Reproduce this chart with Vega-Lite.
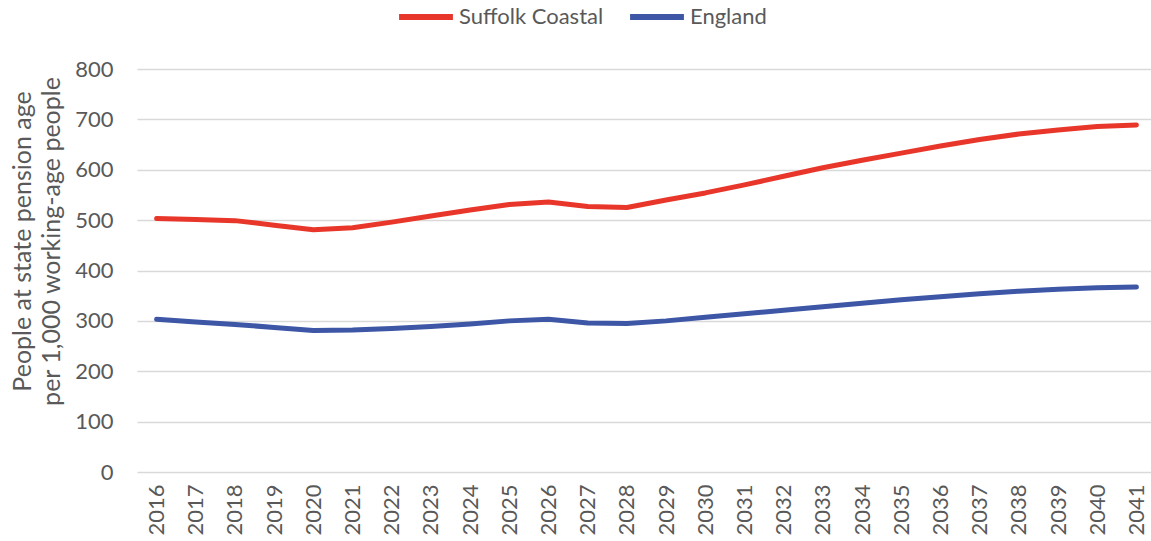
{
  "$schema": "https://vega.github.io/schema/vega-lite/v6.json",
  "autosize": "none",
  "width": 1019,
  "height": 403,
  "padding": {"left": 137, "top": 69, "right": 0, "bottom": 69},
  "background": "white",
  "config": {
    "font": "Lato",
    "view": {"stroke": null}
  },
  "data": {
    "values": [
      {"year": "2016", "area": "Suffolk Coastal", "value": 503},
      {"year": "2017", "area": "Suffolk Coastal", "value": 501},
      {"year": "2018", "area": "Suffolk Coastal", "value": 499},
      {"year": "2019", "area": "Suffolk Coastal", "value": 490},
      {"year": "2020", "area": "Suffolk Coastal", "value": 481},
      {"year": "2021", "area": "Suffolk Coastal", "value": 485},
      {"year": "2022", "area": "Suffolk Coastal", "value": 496},
      {"year": "2023", "area": "Suffolk Coastal", "value": 508},
      {"year": "2024", "area": "Suffolk Coastal", "value": 520},
      {"year": "2025", "area": "Suffolk Coastal", "value": 531},
      {"year": "2026", "area": "Suffolk Coastal", "value": 536},
      {"year": "2027", "area": "Suffolk Coastal", "value": 527},
      {"year": "2028", "area": "Suffolk Coastal", "value": 525},
      {"year": "2029", "area": "Suffolk Coastal", "value": 540},
      {"year": "2030", "area": "Suffolk Coastal", "value": 554},
      {"year": "2031", "area": "Suffolk Coastal", "value": 570},
      {"year": "2032", "area": "Suffolk Coastal", "value": 587},
      {"year": "2033", "area": "Suffolk Coastal", "value": 604},
      {"year": "2034", "area": "Suffolk Coastal", "value": 619},
      {"year": "2035", "area": "Suffolk Coastal", "value": 633},
      {"year": "2036", "area": "Suffolk Coastal", "value": 647},
      {"year": "2037", "area": "Suffolk Coastal", "value": 660},
      {"year": "2038", "area": "Suffolk Coastal", "value": 671},
      {"year": "2039", "area": "Suffolk Coastal", "value": 679},
      {"year": "2040", "area": "Suffolk Coastal", "value": 686},
      {"year": "2041", "area": "Suffolk Coastal", "value": 689},
      {"year": "2016", "area": "England", "value": 303},
      {"year": "2017", "area": "England", "value": 298},
      {"year": "2018", "area": "England", "value": 293},
      {"year": "2019", "area": "England", "value": 287},
      {"year": "2020", "area": "England", "value": 281},
      {"year": "2021", "area": "England", "value": 282},
      {"year": "2022", "area": "England", "value": 285},
      {"year": "2023", "area": "England", "value": 289},
      {"year": "2024", "area": "England", "value": 294},
      {"year": "2025", "area": "England", "value": 300},
      {"year": "2026", "area": "England", "value": 303},
      {"year": "2027", "area": "England", "value": 296},
      {"year": "2028", "area": "England", "value": 295},
      {"year": "2029", "area": "England", "value": 300},
      {"year": "2030", "area": "England", "value": 307},
      {"year": "2031", "area": "England", "value": 314},
      {"year": "2032", "area": "England", "value": 321},
      {"year": "2033", "area": "England", "value": 328},
      {"year": "2034", "area": "England", "value": 335},
      {"year": "2035", "area": "England", "value": 342},
      {"year": "2036", "area": "England", "value": 348},
      {"year": "2037", "area": "England", "value": 354},
      {"year": "2038", "area": "England", "value": 359},
      {"year": "2039", "area": "England", "value": 363},
      {"year": "2040", "area": "England", "value": 366},
      {"year": "2041", "area": "England", "value": 367}
    ]
  },
  "mark": {"type": "line", "strokeWidth": 5, "strokeCap": "round", "strokeJoin": "round"},
  "encoding": {
    "x": {
      "field": "year",
      "type": "ordinal",
      "scale": {"type": "point", "padding": 0.5},
      "axis": {
        "title": null,
        "labelAngle": -90,
        "labelFontSize": 22,
        "labelColor": "#595959",
        "labelPadding": 12,
        "domain": false,
        "ticks": false,
        "grid": false
      }
    },
    "y": {
      "field": "value",
      "type": "quantitative",
      "scale": {"domain": [0, 800], "nice": false},
      "axis": {
        "values": [0, 100, 200, 300, 400, 500, 600, 700, 800],
        "title": ["People at state pension age", "per 1,000 working-age people"],
        "titleFontSize": 25,
        "titleFontWeight": "normal",
        "titleColor": "#595959",
        "titleLineHeight": 29,
        "titlePadding": 10,
        "titleY": 172,
        "labelFontSize": 22,
        "labelColor": "#595959",
        "labelPadding": 24,
        "domain": false,
        "ticks": false,
        "gridColor": "#d9d9d9",
        "gridWidth": 1.5
      }
    },
    "color": {
      "field": "area",
      "type": "nominal",
      "scale": {"domain": ["Suffolk Coastal", "England"], "range": ["#e8372a", "#3d56a6"]},
      "legend": {
        "title": null,
        "orient": "none",
        "legendX": 259,
        "legendY": -82,
        "direction": "horizontal",
        "symbolType": "stroke",
        "symbolSize": 2900,
        "symbolStrokeWidth": 6,
        "labelFontSize": 22,
        "labelColor": "#595959",
        "labelOffset": 3,
        "columnPadding": 14
      }
    }
  }
}
